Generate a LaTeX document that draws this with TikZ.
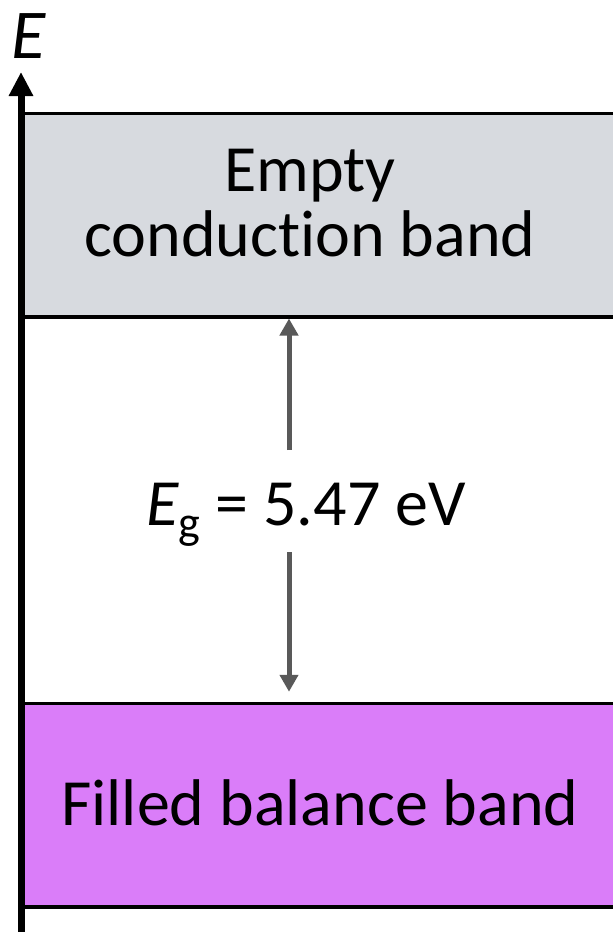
\documentclass[tikz,border=0pt]{standalone}
\usepackage{fontspec}
\setmainfont{Carlito}[Ligatures=NoCommon]
\usetikzlibrary{arrows.meta}
\definecolor{cbgray}{HTML}{D7DADF}
\definecolor{vbpink}{HTML}{DA7DF9}
\definecolor{arrgray}{HTML}{595959}
\tikzset{
  band/.style={draw=black, line width=3.5pt, rectangle, inner sep=0pt,
    minimum width=619pt, minimum height=203.25pt, anchor=north west},
  bandtext/.style={font=\fontsize{66}{66}\selectfont, anchor=base, inner sep=0pt, text=black},
  gaparrow/.style={draw=arrgray, line width=5pt, -{Triangle[width=18pt,length=17pt]}},
  axis/.style={draw=black, line width=7pt, -{Triangle[width=23pt,length=24pt]}}
}
\begin{document}
\begin{tikzpicture}[x=1pt,y=-1pt]
\useasboundingbox (0,0) rectangle (613,932);
\fill[white] (0,0) rectangle (613,932);
% bands
\node[band, fill=cbgray] (cb) at (21,111.75) {};
\node[band, fill=vbpink] (vb) at (21,701.75) {};
% texts
\node[bandtext] (t1) at (310,191) {Empty};
\node[bandtext] (t2) at (310,256) {conduction band};
\node[bandtext] (t3) at (320,825) {Filled balance band};
\node[bandtext] (eg) at (306,525) {{\itshape E}\textsubscript{g} = 5.47 eV};
% gap arrows
\coordinate (gu) at (289,450);
\coordinate (gd) at (289,552);
\draw[gaparrow] (gu) -- (gu |- cb.south);
\draw[gaparrow, shorten >=10pt] (gd) -- (gd |- vb.north);
% energy axis
\coordinate (axbot) at (21,940);
\coordinate (axtop) at (21,72);
\draw[axis] (axbot) -- (axtop);
\node[font=\fontsize{70}{70}\selectfont\itshape, anchor=base, inner sep=0pt] (E) at (29,58) {E};
\end{tikzpicture}
\end{document}
